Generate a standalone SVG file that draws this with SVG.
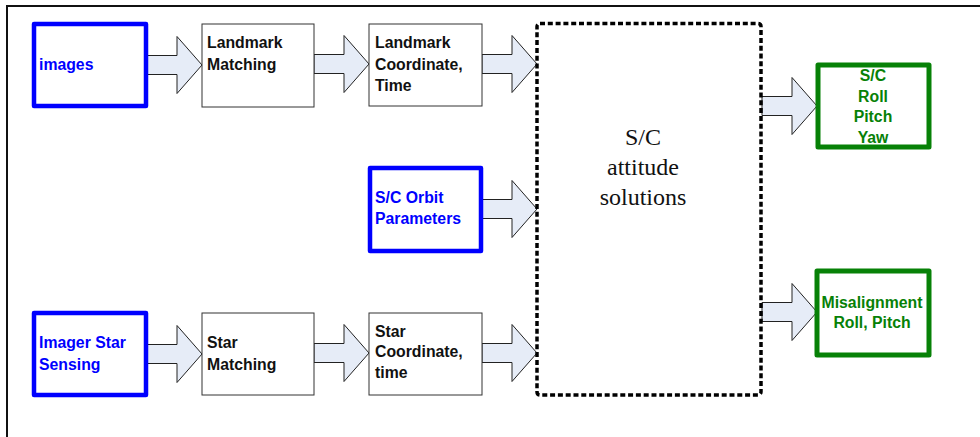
<svg xmlns="http://www.w3.org/2000/svg" xmlns:xlink="http://www.w3.org/1999/xlink" width="980" height="437" viewBox="0 0 980 437">
  <style>
    .frame { fill: none; stroke: #111; stroke-width: 2; }
    .in { fill: #fff; stroke: #0000ff; stroke-width: 4.5; stroke-linejoin: round; }
    .proc { fill: #fff; stroke: #333; stroke-width: 1; }
    .out { fill: #fff; stroke: #078107; stroke-width: 5; stroke-linejoin: round; }
    .solver { fill: none; stroke: #000; stroke-width: 3.5; stroke-dasharray: 5 2.8; }
    .arrow { fill: #e6ecf7; stroke: #222; stroke-width: 1; }
    text { font-family: "Liberation Sans", Arial, sans-serif; font-weight: bold; font-size: 15.8px; }
    .blue { fill: #0000ff; }
    .black { fill: #111; }
    .green { fill: #078107; text-anchor: middle; }
    .serif { font-family: "Liberation Serif", "Times New Roman", serif; font-weight: normal; font-size: 24px; fill: #111; text-anchor: middle; }
  </style>
  <defs>
    <!-- block arrow, tip at the origin -->
    <path id="blk" class="arrow" d="M-55,-9.5 H-25 V-28.5 L0,0 L-25,28.5 V9.5 H-55 Z"/>
  </defs>

  <rect width="980" height="437" fill="#fff"/>
  <path class="frame" d="M7,440 V6 H985"/>

  <g id="connectors">
    <use xlink:href="#blk" transform="translate(202,65)"/>
    <use xlink:href="#blk" transform="translate(369,64)"/>
    <use xlink:href="#blk" transform="translate(537,64)"/>
    <use xlink:href="#blk" transform="translate(537,209)"/>
    <use xlink:href="#blk" transform="translate(202,354)"/>
    <use xlink:href="#blk" transform="translate(369,353)"/>
    <use xlink:href="#blk" transform="translate(537,353)"/>
    <use xlink:href="#blk" transform="translate(817,106)"/>
    <use xlink:href="#blk" transform="translate(817,312)"/>
  </g>

  <g id="images">
    <rect class="in" x="34" y="24" width="112" height="82"/>
    <text class="blue" x="39" y="70">images</text>
  </g>

  <g id="landmark-matching">
    <rect class="proc" x="202" y="24" width="112" height="83"/>
    <text class="black" x="207" y="48">Landmark</text>
    <text class="black" x="207" y="70">Matching</text>
  </g>

  <g id="landmark-coordinate">
    <rect class="proc" x="369" y="24" width="113" height="82"/>
    <text class="black" x="375" y="48">Landmark</text>
    <text class="black" x="375" y="70">Coordinate,</text>
    <text class="black" x="375" y="91">Time</text>
  </g>

  <g id="orbit-parameters">
    <rect class="in" x="370" y="168" width="111" height="83"/>
    <text class="blue" x="375" y="203">S/C Orbit</text>
    <text class="blue" x="375" y="224">Parameters</text>
  </g>

  <g id="imager-star-sensing">
    <rect class="in" x="34" y="313" width="112" height="82"/>
    <text class="blue" x="39" y="348">Imager Star</text>
    <text class="blue" x="39" y="370">Sensing</text>
  </g>

  <g id="star-matching">
    <rect class="proc" x="202" y="313" width="112" height="82"/>
    <text class="black" x="207" y="348">Star</text>
    <text class="black" x="207" y="370">Matching</text>
  </g>

  <g id="star-coordinate">
    <rect class="proc" x="369" y="313" width="113" height="82"/>
    <text class="black" x="375" y="337">Star</text>
    <text class="black" x="375" y="357">Coordinate,</text>
    <text class="black" x="375" y="378">time</text>
  </g>

  <g id="attitude-solutions">
    <rect class="solver" x="537" y="23.5" width="224" height="371.5" rx="3"/>
    <text class="serif" x="643" y="145">S/C</text>
    <text class="serif" x="643" y="175">attitude</text>
    <text class="serif" x="643" y="205">solutions</text>
  </g>

  <g id="roll-pitch-yaw">
    <rect class="out" x="818" y="65" width="111" height="82"/>
    <text class="green" x="873" y="81">S/C</text>
    <text class="green" x="873" y="102">Roll</text>
    <text class="green" x="873" y="122">Pitch</text>
    <text class="green" x="873" y="143">Yaw</text>
  </g>

  <g id="misalignment">
    <rect class="out" x="817" y="271" width="112" height="84"/>
    <text class="green" x="872" y="308">Misalignment</text>
    <text class="green" x="872" y="328">Roll, Pitch</text>
  </g>
</svg>
